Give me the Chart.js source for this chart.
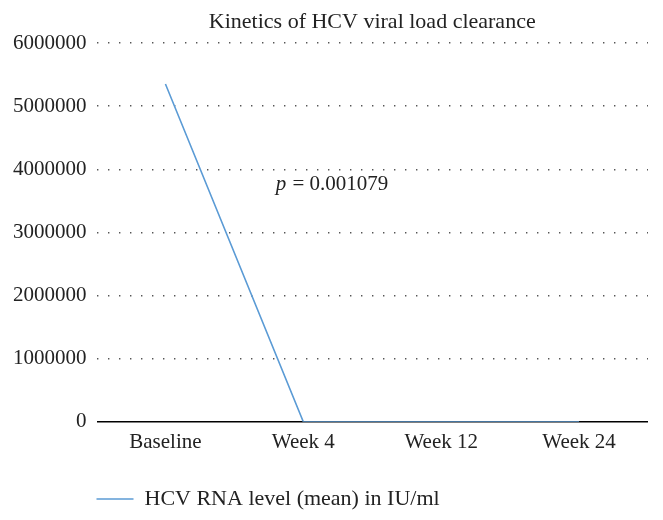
<!DOCTYPE html>
<html>
<head>
<meta charset="utf-8">
<script src="https://cdn.jsdelivr.net/npm/chart.js@4"></script>
<style>
  body { margin: 0; background: #fff; }
  #wrap { width: 663px; height: 520px; }
</style>
</head>
<body>
<div id="wrap"><canvas id="myChart"></canvas></div>
<script>
const categories = ["Baseline", "Week 4", "Week 12", "Week 24"];
const viralLoad = [5350000, 0, 0, 0];
const seriesName = "HCV RNA level (mean) in IU/ml";
const chartTitle = "Kinetics of HCV viral load clearance";
const pValue = "0.001079";
const yTicks = [0, 1000000, 2000000, 3000000, 4000000, 5000000, 6000000];

const serif = "'Liberation Serif', 'DejaVu Serif', serif";

// titulo centrado sobre el area del grafico + anotacion del valor p
const extras = {
    id: "extras",
    afterLayout(chart) {
        // mover la leyenda para que empiece alineada con el area del grafico
        const lg = chart.legend;
        const dx = chart.chartArea.left - lg.left - 22;
        lg.left += dx;
        lg.right += dx;
    },
    afterDraw(chart) {
        const ctx = chart.ctx;
        const area = chart.chartArea;
        const x = chart.scales.x;
        const y = chart.scales.y;
        ctx.save();
        ctx.fillStyle = "#222";
        ctx.textBaseline = "middle";
        ctx.textAlign = "center";
        ctx.font = "22px " + serif;
        ctx.fillText(chartTitle, (area.left + area.right) / 2, 22);

        const px = x.getPixelForValue(0.8);
        const py = y.getPixelForValue(3760000);
        ctx.textAlign = "left";
        ctx.font = "italic 21px " + serif;
        ctx.fillText("p", px, py);
        const w = ctx.measureText("p").width;
        ctx.font = "21px " + serif;
        ctx.fillText(" = " + pValue, px + w + 1, py);
        ctx.restore();
    }
};

new Chart(document.getElementById("myChart"), {
    type: "line",
    data: {
        labels: categories,
        datasets: [{
            label: seriesName,
            data: viralLoad,
            borderColor: "#5b9bd5",
            backgroundColor: "#5b9bd5",
            borderWidth: 1.6,
            pointRadius: 0,
            tension: 0,
            fill: false
        }]
    },
    options: {
        responsive: true,
        maintainAspectRatio: false,
        animation: false,
        layout: { padding: { top: 43, right: 15, left: 3, bottom: 0 } },
        plugins: {
            title: { display: false },
            tooltip: { enabled: false },
            legend: {
                position: "bottom",
                align: "start",
                labels: {
                    color: "#222",
                    font: { family: serif, size: 22 },
                    usePointStyle: true,
                    pointStyle: "line",
                    pointStyleWidth: 37,
                    boxHeight: 8,
                    padding: 22
                }
            }
        },
        scales: {
            x: {
                offset: true,
                grid: { display: false },
                border: { display: false },
                ticks: { color: "#222", font: { family: serif, size: 21 }, padding: 0 },
                afterFit(axis) {
                    // espacio extra entre etiquetas y leyenda
                    axis.height += 11;
                }
            },
            y: {
                min: 0,
                max: 6000000,
                afterBuildTicks(axis) {
                    axis.ticks = yTicks.map(v => ({ value: v }));
                },
                border: {
                    display: false,
                    dash: ctx => ctx.tick && ctx.tick.value === 0 ? [] : [1.4, 9.6]
                },
                grid: {
                    drawTicks: false,
                    color: ctx => ctx.tick && ctx.tick.value === 0 ? "#000" : "#555",
                    lineWidth: ctx => ctx.tick && ctx.tick.value === 0 ? 1.6 : 1.4
                },
                ticks: {
                    color: "#222",
                    font: { family: serif, size: 21 },
                    padding: 10,
                    callback: v => String(v)
                }
            }
        }
    },
    plugins: [extras]
});
</script>
</body>
</html>
